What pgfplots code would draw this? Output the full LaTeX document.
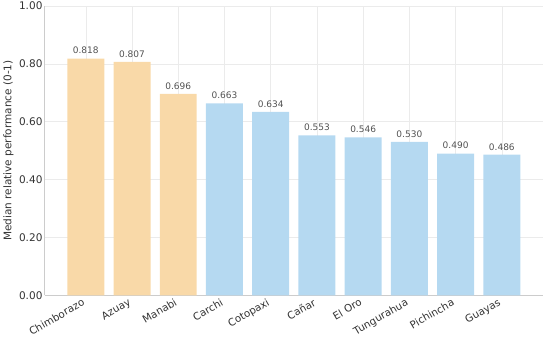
\documentclass[border=0pt]{standalone}
\usepackage{pgfplots}
\pgfplotsset{compat=1.18}
\usepackage{fontspec}
\setmainfont{DejaVu Sans}
\definecolor{orng}{HTML}{F9D9A8}
\definecolor{blu}{HTML}{B5D9F1}
\definecolor{gridc}{HTML}{EBEBEB}
\definecolor{axc}{HTML}{CCCCCC}
\definecolor{txt}{HTML}{333333}
\pgfplotstableread{
x y
0 0.818
1 0.807
2 0.696
}\topt
\pgfplotstableread{
x y
3 0.663
4 0.634
5 0.553
6 0.546
7 0.530
8 0.490
9 0.486
}\rest
\begin{document}
\begin{tikzpicture}
\begin{axis}[
  scale only axis,
  width=496bp, height=288bp,
  xmin=-0.89, xmax=9.89,
  ymin=0, ymax=1,
  axis lines*=left,
  axis line style={axc, line width=0.8pt},
  xtick={0,...,9},
  xticklabels={Chimborazo,Azuay,Manabi,Carchi,Cotopaxi,Cañar,El Oro,Tungurahua,Pichincha,Guayas},
  xticklabel style={xshift=-4bp, yshift=-1bp, rotate=30, anchor=north east, font=\fontsize{10.3}{12}\selectfont, text=txt, inner sep=1pt},
  ytick={0,0.2,...,1.0},
  yticklabel style={font=\fontsize{10.5}{12}\selectfont, text=txt, inner sep=2pt},
  /pgf/number format/assume math mode=true,
  /pgf/number format/.cd, fixed, fixed zerofill, precision=2, /pgfplots/.cd,
  ylabel={Median relative performance (0-1)},
  ylabel style={font=\fontsize{10.5}{12}\selectfont, text=txt},
  major tick length=0pt,
  grid=major,
  major grid style={gridc, line width=0.5pt},
  ybar, bar width=0.8,
  bar shift=0pt,
  nodes near coords,
  every node near coord/.append style={font=\fontsize{9}{10}\selectfont, text=txt!85, /pgf/number format/fixed, /pgf/number format/fixed zerofill, /pgf/number format/precision=3, yshift=1pt},
]
\addplot[fill=orng, draw=none] table[x=x,y=y]{\topt};
\addplot[fill=blu, draw=none] table[x=x,y=y]{\rest};
\end{axis}
\path ([xshift=7bp]current axis.north east);
\end{tikzpicture}
\end{document}
